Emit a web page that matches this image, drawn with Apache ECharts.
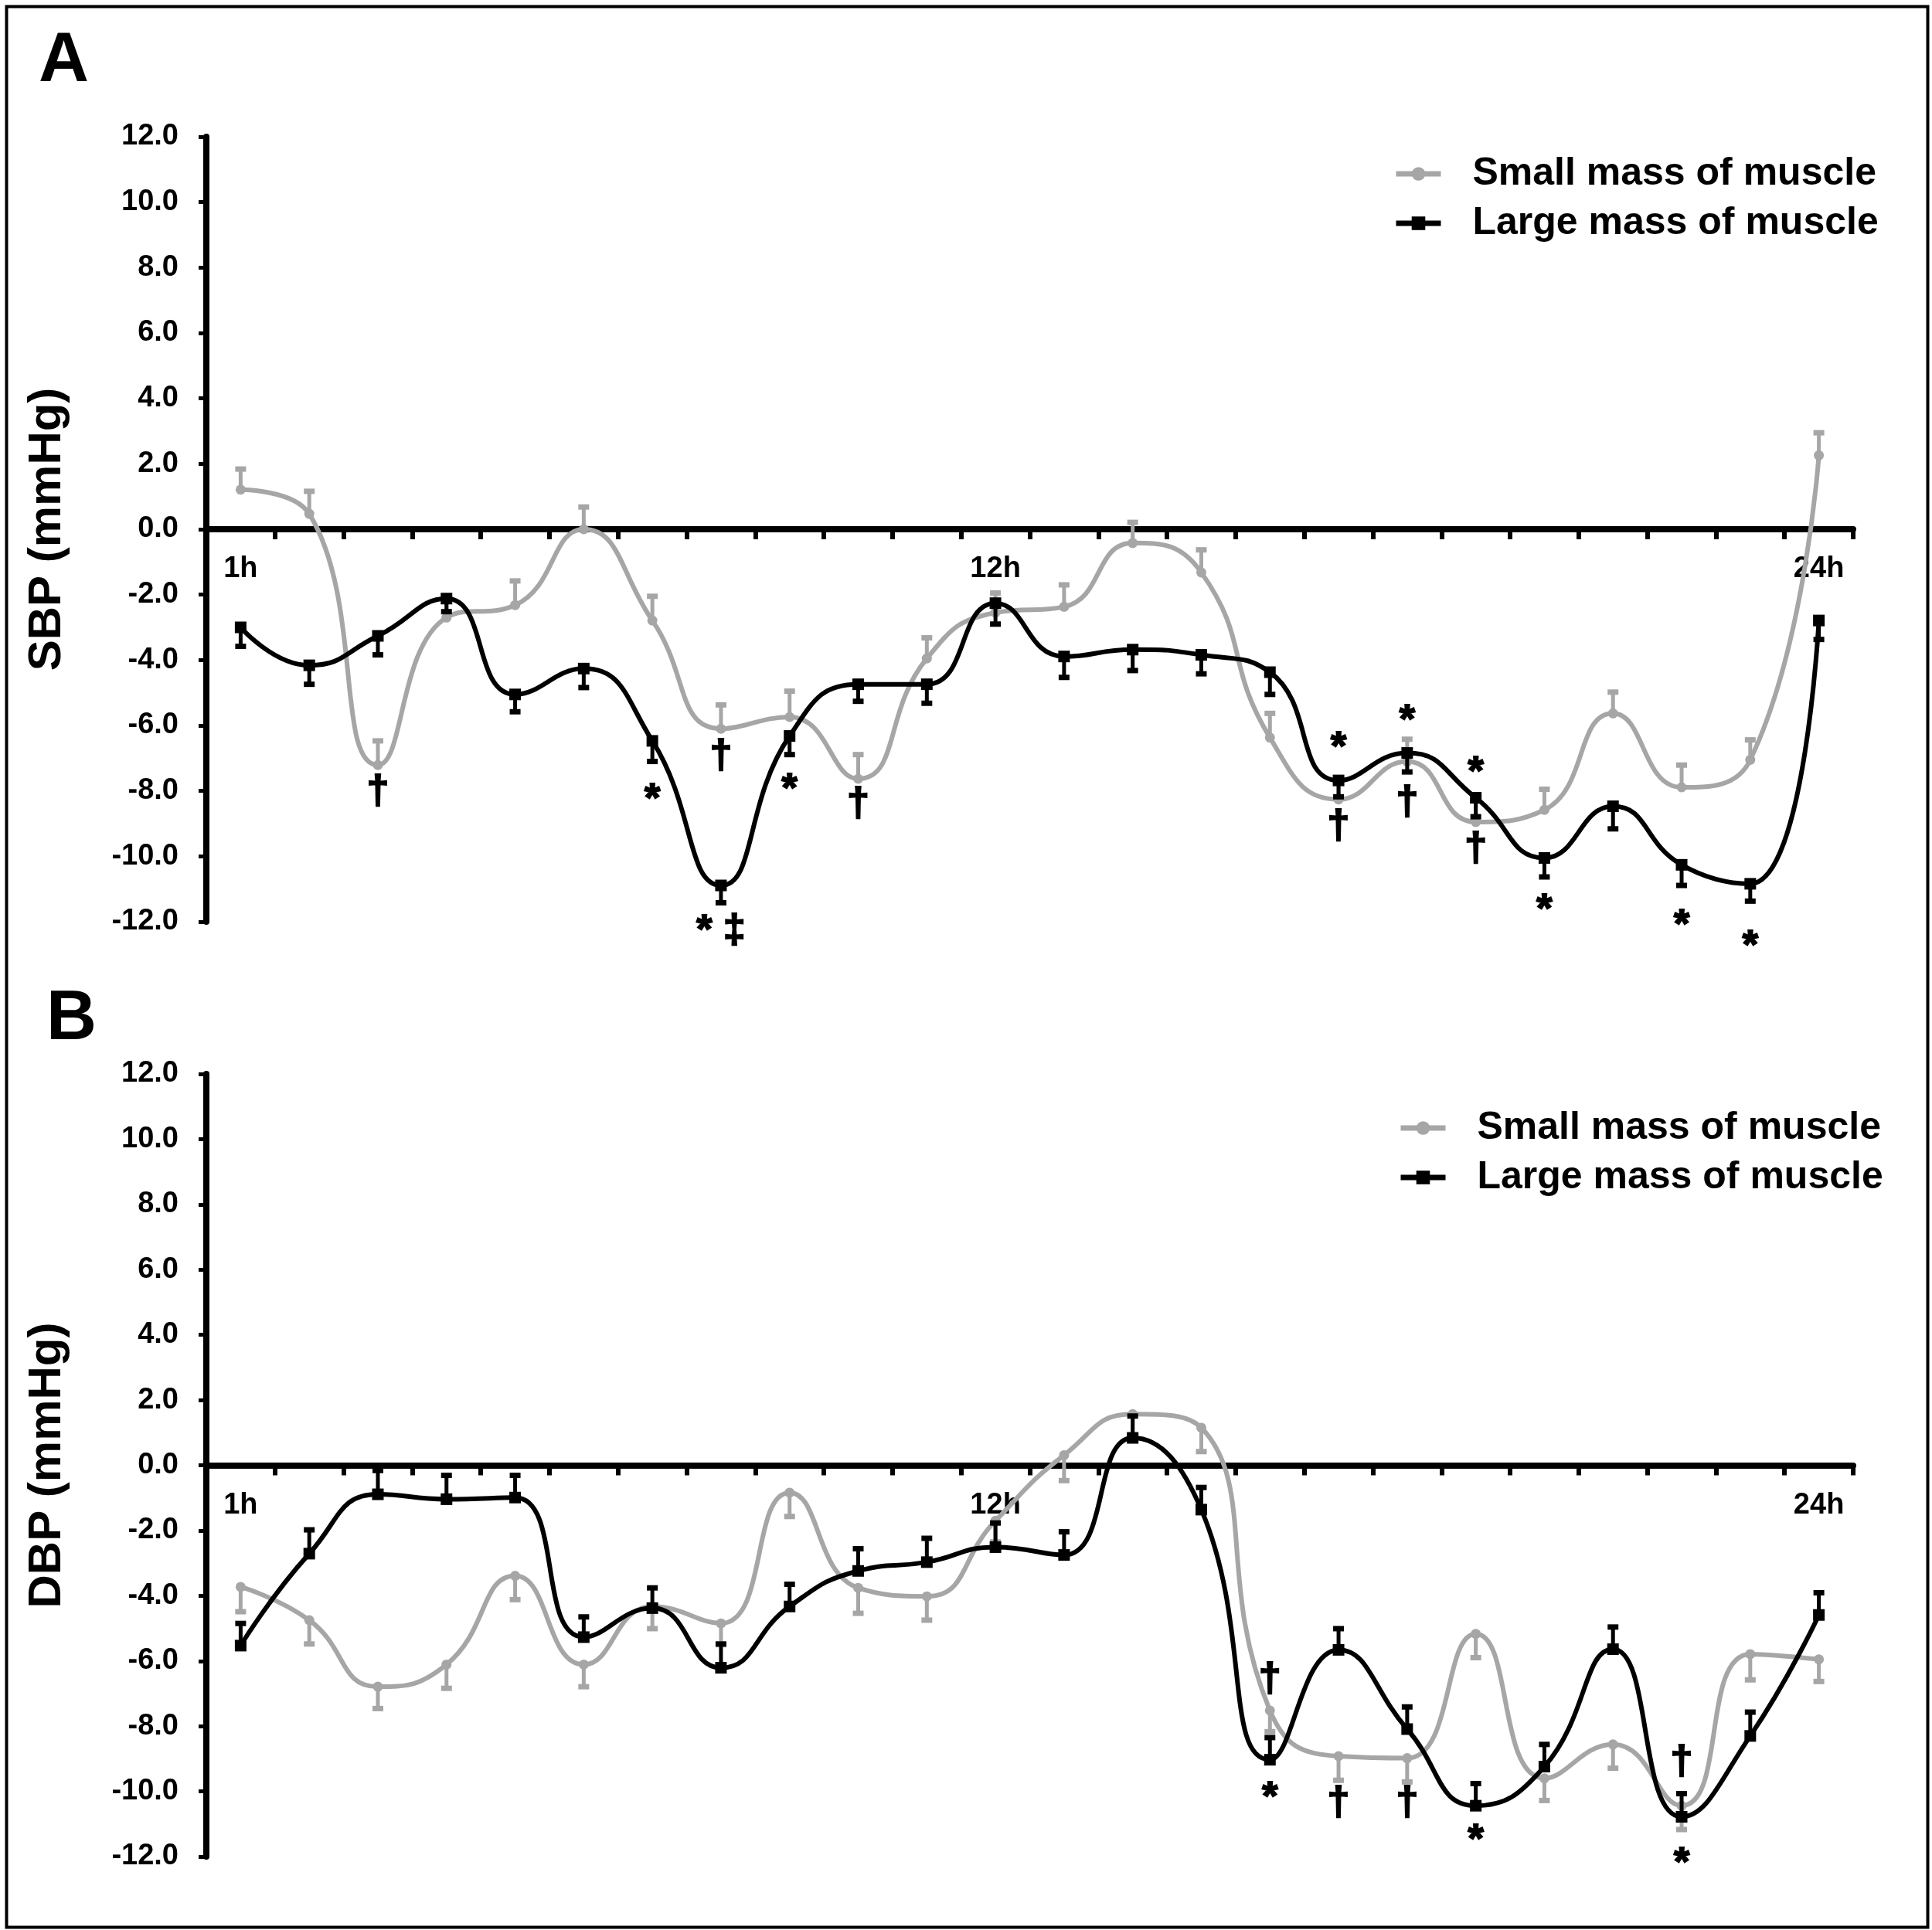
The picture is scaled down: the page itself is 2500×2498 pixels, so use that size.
<!DOCTYPE html>
<html>
<head>
<meta charset="utf-8">
<script src="https://cdn.jsdelivr.net/npm/echarts@6/dist/echarts.min.js"></script>
<style>
html,body{margin:0;padding:0;background:#fff;}
#c{width:2500px;height:2498px;}
</style>
</head>
<body>
<div id="c"></div>
<script>
// ---------- data ----------
const hours = ['1h','2h','3h','4h','5h','6h','7h','8h','9h','10h','11h','12h',
               '13h','14h','15h','16h','17h','18h','19h','20h','21h','22h','23h','24h'];
const xTickLabels = ['1h','12h','24h'];
const seriesNames = ['Small mass of muscle','Large mass of muscle'];

// Panel A: SBP
const sbpSmall   = [1.21, 0.47, -7.21, -2.70, -2.32, 0.00, -2.79, -6.10, -5.74, -7.63, -3.95, -2.55,
                    -2.37, -0.42, -1.32, -6.37, -8.26, -7.10, -8.95, -8.58, -5.63, -7.89, -7.05, 2.26];
const sbpSmallSE = [0.63, 0.69, 0.74, 0.60, 0.74, 0.68, 0.74, 0.73, 0.79, 0.74, 0.63, 0.60,
                    0.67, 0.63, 0.69, 0.74, 0.66, 0.68, 0.65, 0.63, 0.65, 0.68, 0.61, 0.69];
const sbpLarge   = [-3.00, -4.16, -3.26, -2.12, -5.05, -4.26, -6.47, -10.89, -6.32, -4.74, -4.74, -2.26,
                    -3.89, -3.68, -3.84, -4.37, -7.68, -6.84, -8.21, -10.05, -8.47, -10.26, -10.84, -2.79];
const sbpLargeSE = [0.58, 0.58, 0.58, 0.40, 0.53, 0.58, 0.63, 0.53, 0.57, 0.52, 0.58, 0.64,
                    0.64, 0.64, 0.58, 0.68, 0.50, 0.58, 0.58, 0.58, 0.69, 0.63, 0.53, 0.58];
const sbpMarks = [[2,-8.05,'†'],[6,-8.05,'*'],[7,-6.95,'†'],[7,-12.3,'* ‡'],[8,-7.74,'*'],[9,-8.42,'†'],
                  [16,-6.47,'*'],[16,-9.10,'†'],[17,-5.63,'*'],[17,-8.37,'†'],[18,-7.21,'*'],[18,-9.79,'†'],
                  [19,-11.42,'*'],[21,-11.89,'*'],[22,-12.53,'*']];

// Panel B: DBP
const dbpSmall   = [-3.73, -4.75, -6.79, -6.11, -3.39, -6.11, -4.33, -4.85, -0.84, -3.76, -4.02, -1.70,
                    0.31, 1.57, 1.15, -7.52, -8.92, -8.98, -5.17, -9.60, -8.56, -10.44, -5.79, -5.95];
const dbpSmallSE = [0.76, 0.73, 0.67, 0.73, 0.73, 0.68, 0.68, 0.65, 0.73, 0.78, 0.73, 0.65,
                    0.78, 0.65, 0.73, 0.65, 0.74, 0.73, 0.73, 0.68, 0.73, 0.73, 0.79, 0.68];
const dbpLarge   = [-5.53, -2.71, -0.89, -1.04, -0.99, -5.27, -4.38, -6.21, -4.33, -3.24, -2.97, -2.51,
                    -2.75, 0.84, -1.36, -9.03, -5.66, -8.09, -10.44, -9.24, -5.64, -10.78, -8.30, -4.59];
const dbpLargeSE = [0.68, 0.73, 0.73, 0.73, 0.68, 0.62, 0.62, 0.73, 0.68, 0.68, 0.73, 0.74,
                    0.71, 0.67, 0.68, 0.68, 0.65, 0.68, 0.68, 0.68, 0.68, 0.71, 0.73, 0.68];
const dbpMarks = [[15,-6.58,'†'],[15,-9.97,'*'],[16,-10.39,'†'],[17,-10.39,'†'],[18,-11.27,'*'],
                  [21,-9.13,'†'],[21,-12.0,'*']];

// ---------- style ----------
const FONT = '"Liberation Sans", Arial, Helvetica, sans-serif';
const GRAY = '#a6a6a6';
const BLACK = '#000000';

function errData(vals, se, dir) {
  return vals.map((v, i) => [i, v, v + dir * se[i]]);
}
function errRender(color) {
  return function (params, api) {
    const x = api.value(0), v = api.value(1), e = api.value(2);
    const p0 = api.coord([x, v]);
    const p1 = api.coord([x, e]);
    return {
      type: 'group',
      children: [
        {type: 'line', shape: {x1: p0[0], y1: p0[1], x2: p1[0], y2: p1[1]},
         style: {stroke: color, lineWidth: 5}},
        {type: 'line', shape: {x1: p1[0] - 7, y1: p1[1], x2: p1[0] + 7, y2: p1[1]},
         style: {stroke: color, lineWidth: 7}}
      ]
    };
  };
}
function markRender(marks) {
  return function (params, api) {
    const m = marks[params.dataIndex];
    const p = api.coord([api.value(0), api.value(1)]);
    const dy = m[2] === '*' ? 10 : 0;
    return {
      type: 'text', x: p[0], y: p[1] + dy,
      style: {text: m[2], font: 'bold 52px ' + FONT, fill: '#000', stroke: '#000', lineWidth: 2,
              align: 'center', verticalAlign: 'middle'}
    };
  };
}

const panels = [
  {small: sbpSmall, smallSE: sbpSmallSE, smallDir: 1, large: sbpLarge, largeSE: sbpLargeSE, largeDir: -1,
   marks: sbpMarks, title: 'SBP (mmHg)'},
  {small: dbpSmall, smallSE: dbpSmallSE, smallDir: -1, large: dbpLarge, largeSE: dbpLargeSE, largeDir: 1,
   marks: dbpMarks, title: 'DBP (mmHg)'}
];

const grids = [
  {left: 267, top: 177, width: 2131, height: 1016},
  {left: 267, top: 1390, width: 2131, height: 1013}
];

const xAxes = [], yAxes = [], series = [];
panels.forEach((p, k) => {
  xAxes.push({
    type: 'category', gridIndex: k, data: hours, boundaryGap: true, position: 'bottom',
    offset: -grids[k].height / 2,
    axisLine: {show: true, onZero: false, lineStyle: {color: '#000', width: 8}},
    axisTick: {show: true, interval: 0, length: 13, lineStyle: {color: '#000', width: 6}},
    axisLabel: {
      interval: function (idx, val) { return xTickLabels.indexOf(val) >= 0; },
      margin: 33, color: '#000', fontSize: 38, fontWeight: 'bold', fontFamily: FONT
    },
    splitLine: {show: false}
  });
  yAxes.push({
    type: 'value', gridIndex: k, min: -12, max: 12, interval: 2,
    name: p.title, nameLocation: 'middle', nameGap: 176, nameRotate: 90,
    nameTextStyle: {color: '#000', fontSize: 60, fontWeight: 'bold', fontFamily: FONT},
    axisLine: {show: true, lineStyle: {color: '#000', width: 8}},
    axisTick: {show: true, length: 10, lineStyle: {color: '#000', width: 5}},
    axisLabel: {formatter: v => v.toFixed(1), margin: 36, color: '#000', fontSize: 38,
                fontWeight: 'bold', fontFamily: FONT},
    splitLine: {show: false}
  });
  series.push({
    name: seriesNames[0], type: 'line', xAxisIndex: k, yAxisIndex: k, data: p.small,
    smooth: true, symbol: 'circle', symbolSize: 13, showSymbol: true, z: 2,
    itemStyle: {color: GRAY}, lineStyle: {color: GRAY, width: 6}
  });
  series.push({
    type: 'custom', xAxisIndex: k, yAxisIndex: k, z: 2,
    data: errData(p.small, p.smallSE, p.smallDir), renderItem: errRender(GRAY)
  });
  series.push({
    name: seriesNames[1], type: 'line', xAxisIndex: k, yAxisIndex: k, data: p.large,
    smooth: true, symbol: 'rect', symbolSize: 15, showSymbol: true, z: 4,
    itemStyle: {color: BLACK}, lineStyle: {color: BLACK, width: 6}
  });
  series.push({
    type: 'custom', xAxisIndex: k, yAxisIndex: k, z: 4,
    data: errData(p.large, p.largeSE, p.largeDir), renderItem: errRender(BLACK)
  });
  series.push({
    type: 'custom', xAxisIndex: k, yAxisIndex: k, z: 6,
    data: p.marks.map(m => [m[0], m[1]]), renderItem: markRender(p.marks)
  });
});

const legendBase = {
  orient: 'vertical', itemWidth: 58, itemHeight: 22, itemGap: 14, selectedMode: false,
  data: seriesNames,
  lineStyle: {width: 7},
  textStyle: {color: '#000', fontSize: 50, fontWeight: 'bold', fontFamily: FONT, padding: [0, 0, 0, 36]}
};

const chart = echarts.init(document.getElementById('c'), null, {renderer: 'canvas'});
chart.setOption({
  animation: false,
  backgroundColor: '#ffffff',
  grid: grids,
  xAxis: xAxes,
  yAxis: yAxes,
  legend: [
    Object.assign({}, legendBase, {left: 1798, top: 195}),
    Object.assign({}, legendBase, {left: 1804, top: 1430})
  ],
  graphic: [
    {type: 'rect', left: 6, top: 6, shape: {width: 2486, height: 2486},
     style: {fill: 'none', stroke: '#000', lineWidth: 4}, silent: true},
    {type: 'text', x: 50, y: 80, style: {text: 'A', font: 'bold 90px ' + FONT, fill: '#000',
     verticalAlign: 'middle'}},
    {type: 'text', x: 60, y: 1320, style: {text: 'B', font: 'bold 90px ' + FONT, fill: '#000',
     verticalAlign: 'middle'}}
  ],
  series: series
});
</script>
</body>
</html>
